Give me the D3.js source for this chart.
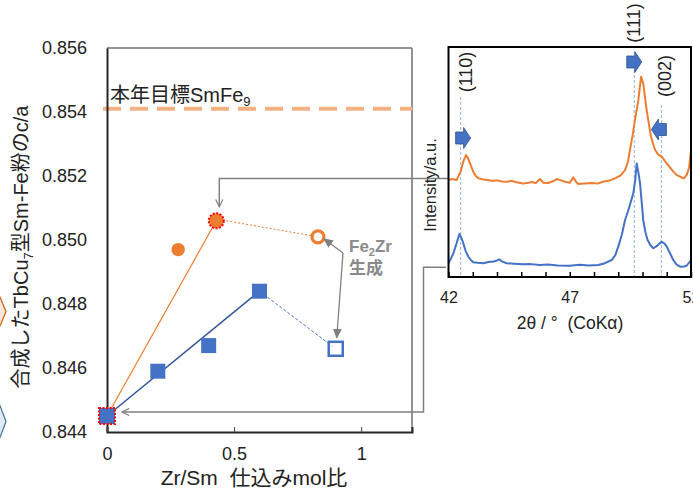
<!DOCTYPE html>
<html><head><meta charset="utf-8">
<script src="https://cdn.jsdelivr.net/npm/d3@7"></script>
<style>
html,body{margin:0;padding:0;background:#fff;}
svg{display:block;font-family:"Liberation Sans","Noto Sans CJK JP",Arial,sans-serif;}
</style></head>
<body>
<svg id="c" width="693" height="492"></svg>
<script>
// ---------- main chart data ----------
const xTicks = [0, 0.5, 1];
const yTicks = [0.844, 0.846, 0.848, 0.850, 0.852, 0.854, 0.856];
const orangeZrSm = [0, 0.28, 0.43, 0.83];
const orangeCA   = [0.8445, 0.8497, 0.8506, 0.8501];
const blueZrSm = [0, 0.2, 0.4, 0.6, 0.9];
const blueCA   = [0.8445, 0.8459, 0.8467, 0.8484, 0.8466];
const targetCA = 0.8541;
const targetLabel = "本年目標SmFe";
const targetSub = "9";

// ---------- inset XRD data ----------
const xrdTicks = [42, 47, 52];
const orangeTheta = [42.00,42.15,42.34,42.50,42.62,42.72,42.80,42.89,43.02,43.12,43.23,43.40,43.58,43.80,44.00,44.20,44.40,44.60,44.80,45.08,45.30,45.44,45.60,45.77,45.90,46.10,46.30,46.46,46.65,46.80,47.00,47.15,47.25,47.35,47.60,47.90,48.18,48.40,48.60,48.87,49.10,49.28,49.40,49.48,49.60,49.69,49.83,49.94,50.03,50.10,50.17,50.27,50.35,50.45,50.52,50.65,50.79,50.90,51.00,51.15,51.27,51.40,51.55,51.70,51.82,51.92,52.00];
const orangeInt   = [42.2,42.6,42.2,45.8,50.5,53.0,51.8,49.4,45.8,44.0,42.9,42.5,42.2,41.8,42.0,41.5,41.4,41.8,41.2,40.7,41.0,41.3,40.8,42.6,41.0,40.9,41.6,42.6,42.0,41.4,41.0,43.3,41.5,40.4,40.6,40.9,40.7,41.5,41.8,42.9,44.2,46.5,50.0,55.2,62.0,68.3,77.0,87.1,84.2,78.5,72.6,66.0,61.0,57.5,55.2,53.2,52.3,50.8,49.4,47.4,45.8,44.4,43.6,42.9,44.3,47.5,55.0];
const blueTheta = [42.00,42.10,42.20,42.33,42.45,42.53,42.61,42.70,42.82,42.92,43.02,43.20,43.44,43.65,43.85,44.00,44.09,44.20,44.40,44.70,45.08,45.40,45.77,46.10,46.50,47.01,47.40,47.80,48.18,48.45,48.73,48.88,49.00,49.15,49.28,49.40,49.48,49.62,49.70,49.76,49.83,49.90,50.03,50.12,50.21,50.33,50.45,50.60,50.70,50.79,50.90,51.00,51.15,51.27,51.40,51.55,51.70,51.82,52.00];
const blueInt   = [6.0,8.0,10.3,14.5,18.7,17.0,14.7,11.5,8.8,7.4,6.4,6.2,6.0,6.5,6.7,7.2,7.7,6.8,6.0,5.8,5.5,5.6,5.2,5.4,5.0,4.9,5.3,5.0,5.2,6.0,7.4,9.5,13.2,18.5,24.8,28.5,31.3,36.4,42.0,49.4,45.5,40.7,24.8,19.5,16.1,13.8,12.5,13.5,14.6,15.3,14.6,13.2,10.0,7.4,5.5,4.5,4.6,4.9,7.4];
const peakNames = ["(110)", "(111)", "(002)"];
const peakTheta = [42.5, 49.66, 50.78];

// ---------- drawing ----------
const svg = d3.select("#c");
const ORANGE = "#ed7d31", BLUE = "#4472c4", DKBLUE = "#2f5597", GRAY = "#808080";

const defs = svg.append("defs");
defs.append("marker").attr("id","openArrow").attr("viewBox","0 0 10 10")
  .attr("refX",9).attr("refY",5).attr("markerWidth",9).attr("markerHeight",9)
  .attr("markerUnits","userSpaceOnUse").attr("orient","auto")
  .append("path").attr("d","M1,1 L9,5 L1,9").attr("fill","none").attr("stroke",GRAY).attr("stroke-width",1.3);
defs.append("marker").attr("id","fillArrow").attr("viewBox","0 0 10 10")
  .attr("refX",9).attr("refY",5).attr("markerWidth",10).attr("markerHeight",10)
  .attr("markerUnits","userSpaceOnUse").attr("orient","auto")
  .append("path").attr("d","M0,0.5 L10,5 L0,9.5 Z").attr("fill",GRAY);

// partial hexagon shapes at left edge
svg.append("path").attr("d","M-10,297 L0,297 L6,311.5 L0,326 L-10,326 Z")
  .attr("fill","#fbe5d6").attr("stroke","#c55a11").attr("stroke-width",1.2);
svg.append("path").attr("d","M-10,403 L-1,403 L6,421.5 L-1,440 L-10,440 Z")
  .attr("fill","#deebf7").attr("stroke","#41719c").attr("stroke-width",1.2);

// main scales
const x = d3.scaleLinear().domain([0, 1.2]).range([107, 412]);
const y = d3.scaleLinear().domain([0.844, 0.856]).range([432, 48]);

// frame
svg.append("line").attr("x1",107).attr("x2",412).attr("y1",48).attr("y2",48).attr("stroke","#6f6f6f").attr("stroke-width",1.5);
svg.append("line").attr("x1",412).attr("x2",412).attr("y1",48).attr("y2",433).attr("stroke","#6f6f6f").attr("stroke-width",1.5);

// target line
svg.append("line").attr("x1",103).attr("x2",412).attr("y1",y(targetCA)).attr("y2",y(targetCA))
  .attr("stroke","#f4b183").attr("stroke-width",4).attr("stroke-dasharray","18,9");
const tl = svg.append("text").attr("x",110).attr("y",y(targetCA)-7).attr("font-size",20).attr("fill","#222");
tl.append("tspan").text(targetLabel);
tl.append("tspan").attr("font-size",13).attr("dy",4).text(targetSub);

// axes
const yAxis = svg.append("g").attr("transform","translate(107,0)")
  .call(d3.axisLeft(y).tickValues(yTicks).tickFormat(d3.format(".3f")).tickSize(0).tickPadding(20));
yAxis.select(".domain").attr("stroke","#262626").attr("stroke-width",2);
yAxis.selectAll("text").attr("font-size",18).attr("fill","#222").attr("font-family","Liberation Sans, Arial, sans-serif");

const xAxis = svg.append("g").attr("transform","translate(0,432)")
  .call(d3.axisBottom(x).tickValues(xTicks).tickFormat(d => d === 0 ? "0" : String(d)).tickSize(-5).tickPadding(15));
xAxis.select(".domain").attr("stroke","#262626").attr("stroke-width",2);
xAxis.selectAll(".tick line").attr("stroke","#444");
xAxis.selectAll("text").attr("font-size",18).attr("fill","#222").attr("font-family","Liberation Sans, Arial, sans-serif");

// axis titles
svg.append("text").attr("x",254).attr("y",485).attr("text-anchor","middle").attr("font-size",21).attr("fill","#222")
  .text("Zr/Sm\u00a0\u00a0仕込みmol比");
const yl = svg.append("text").attr("transform","translate(28,247) rotate(-90)").attr("text-anchor","middle")
  .attr("font-size",20).attr("fill","#222");
yl.append("tspan").text("合成したTbCu");
yl.append("tspan").attr("font-size",13).attr("dy",5).text("7");
yl.append("tspan").attr("dy",-5).text("型Sm-Fe粉のc/a");

// trend / connecting lines
svg.append("line").attr("x1",x(orangeZrSm[0])).attr("y1",y(orangeCA[0])).attr("x2",x(orangeZrSm[2])).attr("y2",y(orangeCA[2]))
  .attr("stroke",ORANGE).attr("stroke-width",1.2);
svg.append("line").attr("x1",x(orangeZrSm[2])+10).attr("y1",y(orangeCA[2])).attr("x2",x(orangeZrSm[3])).attr("y2",y(orangeCA[3]))
  .attr("stroke",ORANGE).attr("stroke-width",1).attr("stroke-dasharray","2,2");
svg.append("line").attr("x1",x(blueZrSm[0])).attr("y1",y(blueCA[0])).attr("x2",x(blueZrSm[3])).attr("y2",y(blueCA[3]))
  .attr("stroke",DKBLUE).attr("stroke-width",1.5);
svg.append("line").attr("x1",x(blueZrSm[3])).attr("y1",y(blueCA[3])).attr("x2",x(blueZrSm[4])).attr("y2",y(blueCA[4]))
  .attr("stroke",BLUE).attr("stroke-width",1).attr("stroke-dasharray","3,2");

// orange markers
orangeZrSm.forEach((v,i) => {
  if (i === 0) return;
  const c = svg.append("circle").attr("cx",x(v)).attr("cy",y(orangeCA[i]));
  if (i === 3) c.attr("r",6).attr("fill","#fff").attr("fill-opacity",0.6).attr("stroke",ORANGE).attr("stroke-width",3.2);
  else if (i === 2) c.attr("r",7.5).attr("fill",ORANGE).attr("stroke","#ff0000").attr("stroke-width",2).attr("stroke-dasharray","2,1.5");
  else c.attr("r",6.7).attr("fill",ORANGE);
});
// blue markers
blueZrSm.forEach((v,i) => {
  const s = (i === 0) ? 16 : 15;
  const r = svg.append("rect").attr("x",x(v)-s/2).attr("y",y(blueCA[i])-s/2).attr("width",s).attr("height",s);
  if (i === 4) r.attr("x",x(v)-7).attr("y",y(blueCA[i])-7).attr("width",14).attr("height",14)
      .attr("fill","#fff").attr("fill-opacity",0.7).attr("stroke",BLUE).attr("stroke-width",2.5);
  else if (i === 0) r.attr("fill",BLUE).attr("stroke","#ff0000").attr("stroke-width",2).attr("stroke-dasharray","2,1.5");
  else r.attr("fill",BLUE);
});

// Fe2Zr annotation
const fz = svg.append("text").attr("x",349).attr("y",252).attr("font-size",17).attr("font-weight","bold").attr("fill","#8a8a8a");
fz.append("tspan").text("Fe");
fz.append("tspan").attr("font-size",11).attr("dy",4).text("2");
fz.append("tspan").attr("dy",-4).text("Zr");
svg.append("text").attr("x",349).attr("y",274).attr("font-size",17).attr("font-weight","bold").attr("fill","#8a8a8a").text("生成");
svg.append("line").attr("x1",343).attr("y1",253).attr("x2",x(orangeZrSm[3])+6).attr("y2",y(orangeCA[3])+2)
  .attr("stroke",GRAY).attr("stroke-width",1.3).attr("marker-end","url(#fillArrow)");
svg.append("line").attr("x1",343).attr("y1",253).attr("x2",x(blueZrSm[4])+1).attr("y2",y(blueCA[4])-11)
  .attr("stroke",GRAY).attr("stroke-width",1.3).attr("marker-end","url(#fillArrow)");

// ---------- inset ----------
const ix = d3.scaleLinear().domain([42, 52]).range([448.5, 691]);
const iy = d3.scaleLinear().domain([0, 100]).range([277, 47]);

// connector lines from inset to main points
const oy = 178.5, by = 267.3;
svg.append("path").attr("d",`M448,${oy} H${x(orangeZrSm[2])+3} V${y(orangeCA[2])-14}`)
  .attr("fill","none").attr("stroke",GRAY).attr("stroke-width",1.5).attr("marker-end","url(#openArrow)");
svg.append("path").attr("d",`M446,${by} H423.5 V${y(blueCA[0])-4} H${x(blueZrSm[0])+15}`)
  .attr("fill","none").attr("stroke",GRAY).attr("stroke-width",1.5).attr("marker-end","url(#openArrow)");

// peak reference lines
const peakTop = [97, 60, 105];
peakTheta.forEach((t,i) => {
  svg.append("line").attr("x1",ix(t)).attr("x2",ix(t)).attr("y1",peakTop[i]).attr("y2",277)
    .attr("stroke","#8eb4e3").attr("stroke-width",1).attr("stroke-dasharray","3,2");
});

const line = d3.line().x(d => ix(d[0])).y(d => iy(d[1]));
svg.append("path").datum(orangeTheta.map((t,i)=>[t,orangeInt[i]])).attr("d",line)
  .attr("fill","none").attr("stroke",ORANGE).attr("stroke-width",2).attr("stroke-linejoin","round");
svg.append("path").datum(blueTheta.map((t,i)=>[t,blueInt[i]])).attr("d",line)
  .attr("fill","none").attr("stroke",BLUE).attr("stroke-width",2).attr("stroke-linejoin","round");

// inset frame
svg.append("rect").attr("x",448.5).attr("y",47).attr("width",691-448.5).attr("height",230)
  .attr("fill","none").attr("stroke","#000").attr("stroke-width",2);
const ia = svg.append("g").attr("transform","translate(0,277)")
  .call(d3.axisBottom(ix).ticks(10).tickSize(-5).tickFormat(d => xrdTicks.includes(d) ? String(d) : "").tickPadding(15));
ia.select(".domain").remove();
ia.selectAll(".tick line").attr("stroke","#000").attr("stroke-width",1.5);
ia.selectAll("text").attr("font-size",16).attr("fill","#222").attr("font-family","Liberation Sans, Arial, sans-serif");

svg.append("text").attr("x",570).attr("y",329).attr("text-anchor","middle").attr("font-size",17.5).attr("fill","#222")
  .text("2θ / °\u00a0\u00a0(CoKα)");
svg.append("text").attr("transform","translate(436,185) rotate(-90)").attr("text-anchor","middle")
  .attr("font-size",16.5).attr("fill","#222").text("Intensity/a.u.");

// peak labels
const labelPos = [[ix(peakTheta[0])+5, 72], [ix(peakTheta[1]), 23], [ix(peakTheta[2])+4, 76]];
peakNames.forEach((n,i) => {
  svg.append("text").attr("transform",`translate(${labelPos[i][0]+6},${labelPos[i][1]}) rotate(-90)`)
    .attr("text-anchor","middle").attr("font-size",18).attr("fill","#222").text(n);
});

// block arrows (shift directions)
function blockArrow(cx, cy, dir) {
  const p = dir > 0
    ? [[-7,-6],[1,-6],[1,-10.5],[8,0],[1,10.5],[1,6],[-7,6]]
    : [[7,-6],[-1,-6],[-1,-10.5],[-8,0],[-1,10.5],[-1,6],[7,6]];
  svg.append("polygon").attr("points", p.map(q => [cx+q[0], cy+q[1]].join(",")).join(" "))
    .attr("fill",BLUE).attr("stroke","#2f528f").attr("stroke-width",0.8);
}
blockArrow(ix(peakTheta[0])+2, 138, 1);
blockArrow(ix(peakTheta[1])-0.5, 62, 1);
blockArrow(ix(peakTheta[2])-2, 129.5, -1);
</script>
</body></html>
